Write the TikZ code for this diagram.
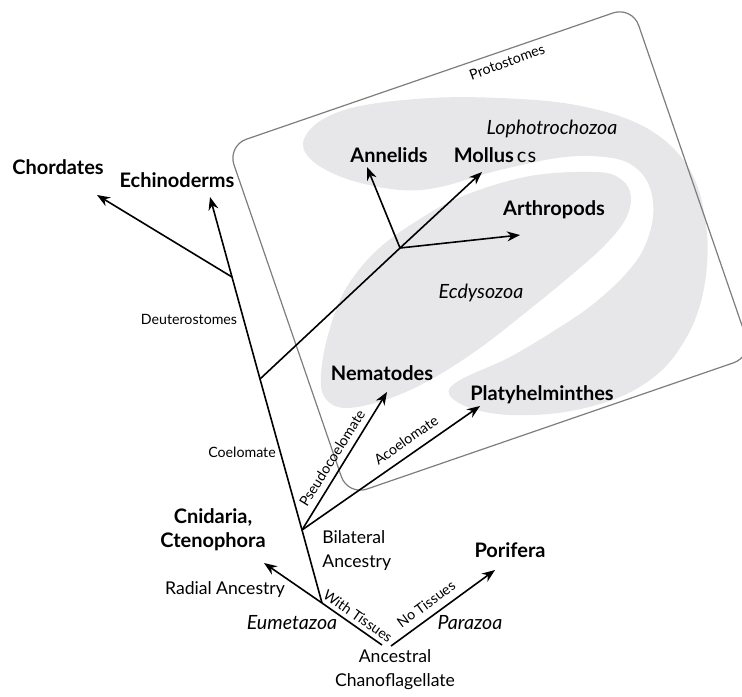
\documentclass[tikz,border=0pt]{standalone}
\usepackage{fontspec}
\setmainfont{Lato}
\usetikzlibrary{arrows.meta}
\definecolor{cladegray}{RGB}{231,231,233}
\definecolor{boxgray}{RGB}{125,125,125}
\begin{document}
\begin{tikzpicture}[x=0.5pt,y=-0.5pt,
  tree/.style={line width=0.8pt, black},
  arr/.style={tree, -{Stealth[length=6.5pt,width=5pt]}},
  taxon/.style={font=\bfseries\fontsize{10}{12}\selectfont, inner sep=0pt},
  clade/.style={font=\itshape\fontsize{9.8}{12}\selectfont, inner sep=0pt},
  trait/.style={font=\fontsize{8.8}{12}\selectfont, inner sep=0pt},
  small/.style={font=\fontsize{7.1}{8}\selectfont, inner sep=0pt},
]
\useasboundingbox (0,0) rectangle (742,696);
% gray clade regions
\fill[cladegray] plot[smooth cycle, tension=0.6] coordinates {
  (303,143) (320,121) (360,106) (430,98) (500,98) (570,104) (630,120)
  (670,145) (695,180) (706,225) (707,265) (700,305) (685,340) (660,372)
  (620,397) (565,412) (510,415) (470,408) (449,394) (460,380) (510,357)
  (560,327) (592,305) (622,278) (643,250) (653,217) (650,188) (636,168)
  (612,158) (565,157) (500,170) (440,187) (400,190) (350,180) (315,163)};
\fill[cladegray] plot[smooth cycle, tension=0.6] coordinates {
  (597,172) (622,180) (631,197) (625,220) (605,245) (575,272) (535,305)
  (480,348) (430,380) (385,400) (345,408) (325,398) (321,375) (328,335)
  (345,290) (375,252) (415,222) (463,196) (530,176)};
% protostome box
\node[draw=boxgray, line width=0.6pt, rounded corners=10pt,
      minimum width=214pt, minimum height=185pt, rotate=19] (protobox) at (490,251) {};
\node[small, rotate=20] (protolab) at (507,62) {Protostomes};
% branch points and tips
\coordinate (rootL) at (382,645);
\coordinate (rootR) at (391,646);
\coordinate (eu) at (322,603);
\coordinate (cnidtip) at (264,563);
\coordinate (portip) at (495,570);
\coordinate (bil) at (302,530);
\coordinate (coel) at (260,379);
\coordinate (deut) at (232,277);
\coordinate (echtip) at (210,197);
\coordinate (chordtip) at (97,195);
\coordinate (proto) at (400,248);
\coordinate (molltip) at (482,172);
\coordinate (annetip) at (367,167);
\coordinate (arthtip) at (520,235);
\coordinate (nemtip) at (387,392);
\coordinate (platytip) at (480,406);
% tree
\draw[tree] (rootL) -- (eu);
\draw[arr] (eu) -- (cnidtip);
\draw[arr] (rootR) -- (portip);
\draw[tree] (eu) -- (bil) -- (coel) -- (deut);
\draw[arr] (deut) -- (echtip);
\draw[arr] (deut) -- (chordtip);
\draw[tree] (coel) -- (proto);
\draw[arr] (proto) -- (molltip);
\draw[arr] (proto) -- (annetip);
\draw[arr] (proto) -- (arthtip);
\draw[arr] (bil) -- (nemtip);
\draw[arr] (bil) -- (platytip);
% labels
\node[taxon] (chord) at (58,167) {Chordates};
\node[taxon] (echi) at (177,180) {Echinoderms};
\node[taxon] (anne) at (389,155) {Annelids};
\node[taxon] (moll) at (495,155) {Mollus\kern1.5pt{\mdseries c\kern0.6pt s}};
\node[clade] (loph) at (552,129) {Lophotrochozoa};
\node[taxon] (arth) at (554,210) {Arthropods};
\node[clade] (ecdy) at (481,293) {Ecdysozoa};
\node[taxon] (nema) at (382,373) {Nematodes};
\node[taxon] (platy) at (542,395) {Platyhelminthes};
\node[small] (deutlab) at (189,319) {Deuterostomes};
\node[small] (coellab) at (242,452) {Coelomate};
\node[small, rotate=58] (pseudolab) at (332,458) {Pseudocoelomate};
\node[small, rotate=35] (acoellab) at (406,440) {Acoelomate};
\node[taxon, align=center] (cnid) at (213,530) {Cnidaria,\\Ctenophora};
\node[trait, align=left, anchor=west] (bilab) at (322,551) {Bilateral\\Ancestry};
\node[trait] (radlab) at (225,590) {Radial Ancestry};
\node[small, rotate=-35] (withlab) at (358,616) {With Tissues};
\node[clade] (eumet) at (292,623) {Eumetazoa};
\node[small, rotate=36] (nolab) at (426,604) {No Tissues};
\node[clade] (para) at (470,623) {Parazoa};
\node[taxon] (pori) at (510,550) {Porifera};
\node[trait, align=center] (rootlab) at (395,670) {Ancestral\\Chanoflagellate};
\end{tikzpicture}
\end{document}
